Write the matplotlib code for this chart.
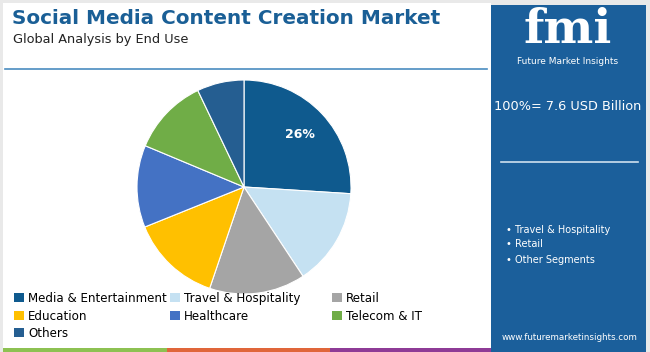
import matplotlib.pyplot as plt
from matplotlib.patches import Rectangle, Patch
from matplotlib.lines import Line2D

# DATA
segments = ['Media & Entertainment', 'Travel & Hospitality', 'Retail', 'Education',
            'Healthcare', 'Telecom & IT', 'Others']
shares = [26, 14.7, 14.5, 13.7, 12.4, 11.6, 7.1]
colors = ['#0f5a8e', '#c5e1f2', '#a5a5a5', '#ffc000', '#4472c4', '#70ad47', '#255e91']
highlights = ['Travel & Hospitality', 'Retail', 'Other Segments']

title = 'Social Media Content Creation Market'
subtitle = 'Global Analysis by End Use'
total_text = '100%= 7.6 USD Billion'
site = 'www.futuremarketinsights.com'

W, H = 650, 352
fig = plt.figure(figsize=(W / 100, H / 100), dpi=100)
fig.patch.set_facecolor('#e9e9e9')


def fx(x):
    return x / W


def fy(y):
    return 1 - y / H


# white card and right blue panel
fig.add_artist(Rectangle((fx(3), fy(352)), fx(488), 349 / H, transform=fig.transFigure,
                         facecolor='white', edgecolor='none', zorder=0))
fig.add_artist(Rectangle((fx(491), fy(352)), fx(155), 347 / H, transform=fig.transFigure,
                         facecolor='#1b5f9b', edgecolor='none', zorder=0))

# bottom colour strip
for x0, x1, c in [(3, 167, '#8dc152'), (167, 330, '#e0663a'), (330, 491, '#8e3b96')]:
    fig.add_artist(Rectangle((fx(x0), fy(352)), fx(x1 - x0), 4 / H, transform=fig.transFigure,
                             facecolor=c, edgecolor='none', zorder=1))

# header
fig.text(fx(12), fy(18), title, fontsize=14.4, fontweight='bold', color='#1a5f96',
         va='center', ha='left', family='DejaVu Sans')
fig.text(fx(13), fy(40), subtitle, fontsize=9.3, color='#222222', va='center', ha='left')
fig.add_artist(Line2D([fx(5), fx(487)], [fy(69), fy(69)], transform=fig.transFigure,
                      color='#4a8cc0', lw=1.2))

# pie
ax = fig.add_axes([fx(244 - 107), fy(187 + 107), fx(214), 214 / H])
wedges, _ = ax.pie(shares, colors=colors, startangle=90, counterclock=False,
                   wedgeprops=dict(edgecolor='white', linewidth=0.8))
ax.set_xlim(-1.0, 1.0)
ax.set_ylim(-1.0, 1.0)
ax.set_aspect('equal')
ax.text(0.52, 0.49, f'{shares[0]:.0f}%', color='white', fontsize=9, fontweight='bold',
        ha='center', va='center')

# legend: three columns placed at the reference's column positions
handles = [Patch(facecolor=c, edgecolor='none') for c in colors]
columns = [([0, 3, 6], 14), ([1, 4], 170), ([2, 5], 332)]
for idx, x0 in columns:
    leg = fig.legend([handles[i] for i in idx], [segments[i] for i in idx],
                     loc='upper left', bbox_to_anchor=(fx(x0), fy(292)), frameon=False,
                     fontsize=8.6, handlelength=0.8, handleheight=0.8, handletextpad=0.4,
                     labelspacing=0.38, borderpad=0, borderaxespad=0)

# right panel
fig.text(fx(568), fy(30), 'fmi', fontsize=34, fontweight='bold', color='white',
         family='DejaVu Serif', ha='center', va='center')
fig.text(fx(568), fy(61), 'Future Market Insights', fontsize=6.5, color='white',
         ha='center', va='center')
fig.text(fx(568), fy(107), total_text, fontsize=9.3, color='white', ha='center', va='center')
fig.add_artist(Line2D([fx(501), fx(638)], [fy(162), fy(162)], transform=fig.transFigure,
                      color='#cfe0ee', lw=1.2))
for lab, y in zip(highlights, [230, 244, 260]):
    fig.text(fx(506), fy(y), '• ' + lab, fontsize=7, color='white', ha='left', va='center')
fig.text(fx(570), fy(337), site, fontsize=6.3, color='white', ha='center', va='center')

fig.savefig('out.png', dpi=100, facecolor=fig.get_facecolor())
